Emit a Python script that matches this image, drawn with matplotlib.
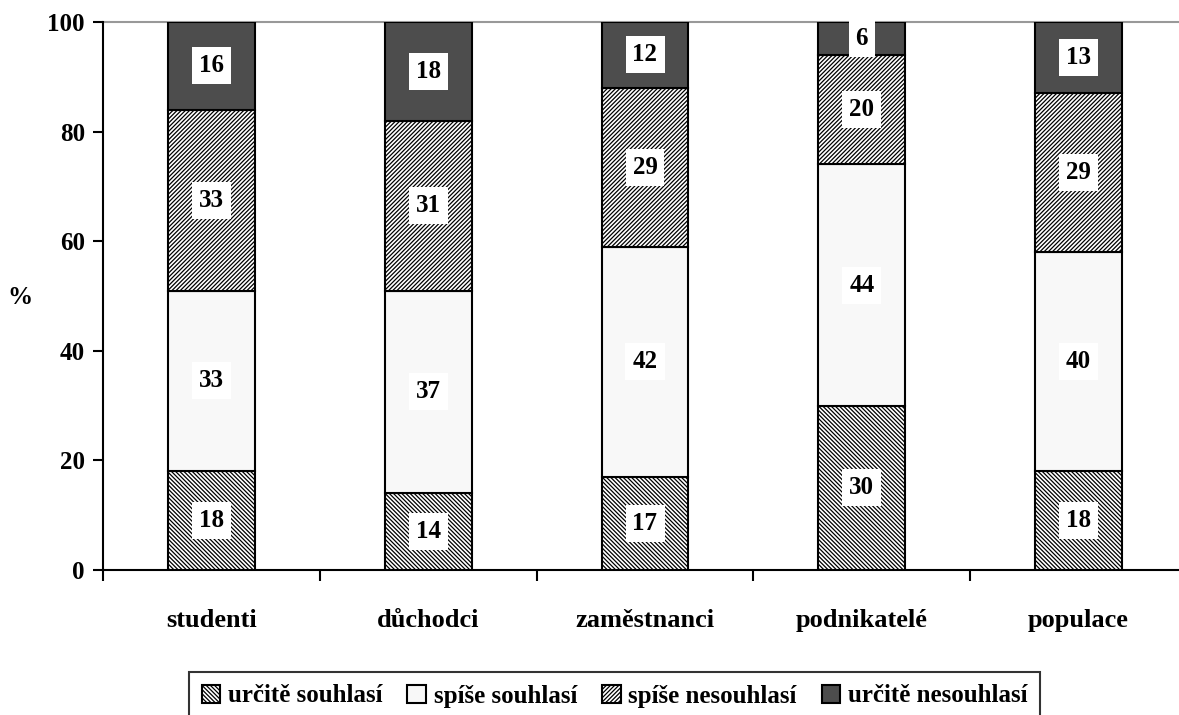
import matplotlib.pyplot as plt
import numpy as np

categories = ['studenti', 'důchodci', 'zaměstnanci', 'podnikatelé', 'populace']
series_names = ['určitě souhlasí', 'spíše souhlasí', 'spíše nesouhlasí', 'určitě nesouhlasí']
urcite_souhlasi = [18, 14, 17, 30, 18]
spise_souhlasi = [33, 37, 42, 44, 40]
spise_nesouhlasi = [33, 31, 29, 20, 29]
urcite_nesouhlasi = [16, 18, 12, 6, 13]
yticks = [0, 20, 40, 60, 80, 100]

plt.rcParams['font.family'] = ['Liberation Serif', 'DejaVu Serif']
plt.rcParams['font.weight'] = 'bold'
plt.rcParams['hatch.linewidth'] = 0.9
plt.rcParams['hatch.color'] = '#222222'

fig = plt.figure(figsize=(11.79, 7.15), dpi=100)
ax = fig.add_axes([103 / 1179, 1 - 570 / 715, 1084 / 1179, 548 / 715])

x = np.arange(len(categories))
series = [urcite_souhlasi, spise_souhlasi, spise_nesouhlasi, urcite_nesouhlasi]
faces = ['white', '#f8f8f8', 'white', '#4d4d4d']
hatches = ['\\\\\\\\\\\\\\\\', None, '////////', None]

bottom = np.zeros(len(categories))
for vals, name, fc, h in zip(series, series_names, faces, hatches):
    ax.bar(x, vals, 0.4, bottom=bottom, color=fc, edgecolor='black',
           linewidth=1.5, hatch=h, label=name, zorder=3)
    for xi, b, v in zip(x, bottom, vals):
        ax.text(xi, b + v / 2, str(v), ha='center', va='center', fontsize=18,
                fontweight='bold', zorder=5,
                bbox=dict(boxstyle='square,pad=0.28', fc='white', ec='none'))
    bottom += np.array(vals)

ax.axhline(100, color='#999999', lw=1.5, zorder=2, clip_on=False)

ax.set_xlim(-0.5, 4.5)
ax.set_ylim(0, 100)
ax.set_yticks(yticks)
ax.set_yticklabels([str(t) for t in yticks], fontsize=18, fontweight='bold')
ax.set_xticks(np.arange(-0.5, 5, 1))
ax.set_xticklabels([])
ax.set_xticks(x, minor=True)
ax.set_xticklabels(categories, minor=True, fontsize=19, fontweight='bold')
ax.tick_params(axis='x', which='minor', length=0, pad=28)
ax.tick_params(axis='x', which='major', direction='out', length=8, width=1.5)
ax.tick_params(axis='y', direction='out', length=7, width=1.5, pad=6)

for s in ['top', 'right']:
    ax.spines[s].set_visible(False)
for s in ['left', 'bottom']:
    ax.spines[s].set_linewidth(1.5)

fig.text(20 / 1179, 1 - 297 / 715, '%', ha='center', va='center',
         fontsize=18, fontweight='bold')

leg = fig.legend(loc='upper left', bbox_to_anchor=(189 / 1179, 1 - 672 / 715),
                 ncol=4, fontsize=18, frameon=True, fancybox=False,
                 edgecolor='black', handlelength=0.75, handleheight=0.75,
                 handletextpad=0.3, columnspacing=1.0, borderpad=0.5,
                 borderaxespad=0)
leg.get_frame().set_linewidth(1.5)

fig.savefig('out.png', dpi=100)
